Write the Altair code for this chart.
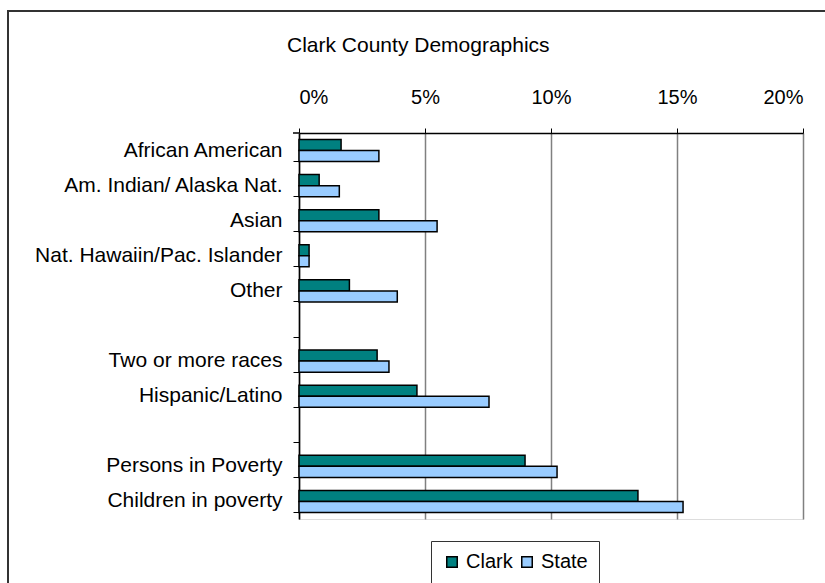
import altair as alt
import pandas as pd

# ---- data ----
row_order = [
    "African American",
    "Am. Indian/ Alaska Nat.",
    "Asian",
    "Nat. Hawaiin/Pac. Islander",
    "Other",
    " ",
    "Two or more races",
    "Hispanic/Latino",
    "  ",
    "Persons in Poverty",
    "Children in poverty",
]
categories = [
    "African American",
    "Am. Indian/ Alaska Nat.",
    "Asian",
    "Nat. Hawaiin/Pac. Islander",
    "Other",
    "Two or more races",
    "Hispanic/Latino",
    "Persons in Poverty",
    "Children in poverty",
]
clark = [1.67, 0.80, 3.17, 0.40, 2.00, 3.10, 4.68, 8.97, 13.45]
state = [3.17, 1.60, 5.48, 0.40, 3.90, 3.57, 7.54, 10.24, 15.24]
series = ["Clark", "State"]
x_ticks = [0, 0.05, 0.10, 0.15, 0.20]
title_text = ["Clark County Demographics"]

rows = []
for c, a, b in zip(categories, clark, state):
    rows.append({"category": c, "series": "Clark", "value": a / 100})
    rows.append({"category": c, "series": "State", "value": b / 100})
df = pd.DataFrame(rows)
one_df = pd.DataFrame({"title": title_text})

FONT = "Liberation Sans"

yscale = alt.Scale(domain=row_order, paddingInner=0.37, paddingOuter=0.185)

bars = alt.Chart(df).mark_bar(stroke="black", strokeWidth=1.5).encode(
    x=alt.X(
        "value:Q",
        scale=alt.Scale(domain=[0, 0.2], nice=False),
        axis=alt.Axis(
            orient="top",
            format=".0%",
            values=x_ticks,
            title=None,
            grid=True,
            gridColor="#808080",
            gridWidth=1.5,
            domainColor="#000000",
            domainWidth=1.5,
            tickColor="#000000",
            tickSize=5,
            labelPadding=21,
            labelFontSize=20,
            labelFont=FONT,
            labelColor="#000000",
        ),
    ),
    y=alt.Y(
        "category:N",
        scale=yscale,
        sort=row_order,
        axis=alt.Axis(
            title=None,
            ticks=True,
            bandPosition=1,
            tickSize=6,
            tickColor="#000000",
            domainColor="#000000",
            domainWidth=1.5,
            labelPadding=11,
            labelFontSize=21,
            labelFont=FONT,
            labelColor="#000000",
            labelLimit=0,
            grid=False,
        ),
    ),
    yOffset=alt.YOffset("series:N", sort=series,
                        scale=alt.Scale(paddingInner=0, paddingOuter=0)),
    color=alt.Color(
        "series:N",
        sort=series,
        scale=alt.Scale(domain=series, range=["#008080", "#99CCFF"]),
        legend=alt.Legend(
            title=None,
            orient="none",
            legendX=132,
            legendY=408,
            direction="horizontal",
            symbolType="square",
            symbolSize=110,
            symbolStrokeColor="#000000",
            symbolStrokeWidth=1.5,
            labelFontSize=20,
            labelFont=FONT,
            labelColor="#000000",
            strokeColor="#333333",
            padding=11,
            columnPadding=4,
            labelOffset=4,
            fillColor="white",
        ),
    ),
)

top_tick = alt.Chart(one_df).mark_rule(color="black", strokeWidth=1.5).encode(
    x=alt.value(-6), x2=alt.value(0), y=alt.value(0)
)

frame = alt.Chart(one_df).mark_rect(
    fill=None, stroke="#333333", strokeWidth=2
).encode(
    x=alt.value(-291), x2=alt.value(620), y=alt.value(-122), y2=alt.value(600)
)

title = alt.Chart(one_df).mark_text(
    align="left", baseline="middle", fontSize=21, font=FONT, color="#000000"
).encode(
    text="title:N", x=alt.value(-12), y=alt.value(-87)
)

chart = (
    alt.layer(frame, bars, top_tick, title)
    .properties(
        width=504,
        height=386,
        autosize=alt.AutoSizeParams(type="none"),
        padding={"left": 299, "top": 133, "right": 22, "bottom": 64},
    )
    .configure_view(stroke="#808080", strokeWidth=2)
    .configure(background="white")
)

chart.save("out.html", embed_options={"renderer": "svg", "actions": False})
